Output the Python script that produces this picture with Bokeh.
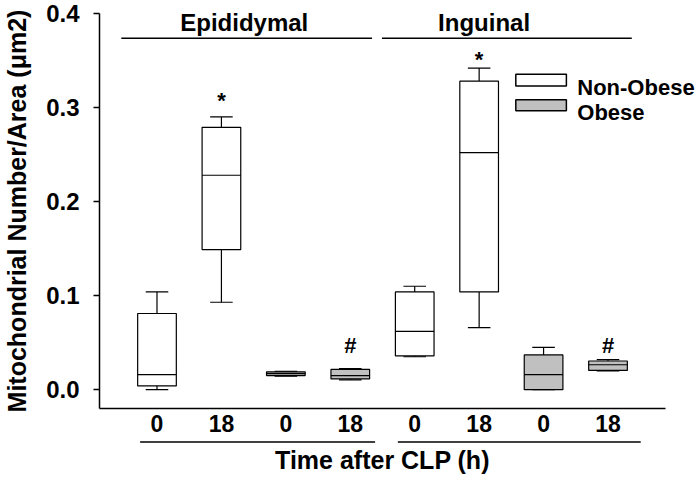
from bokeh.plotting import figure
from bokeh.models import FixedTicker, Range1d, PrintfTickFormatter, ColumnDataSource
from bokeh.core.properties import value
from bokeh.embed import file_html
from bokeh.resources import INLINE

# ---- data ----
positions = [1, 2, 3, 4, 5, 6, 7, 8]
hours = ["0", "18", "0", "18", "0", "18", "0", "18"]
groups = ["Non-Obese", "Non-Obese", "Obese", "Obese",
          "Non-Obese", "Non-Obese", "Obese", "Obese"]
tissues = ["Epididymal", "Inguinal"]
whisker_low = [0.000, 0.093, 0.0145, 0.0105, 0.035, 0.066, 0.000, 0.020]
q1 = [0.004, 0.149, 0.0150, 0.0115, 0.036, 0.104, 0.000, 0.0205]
median = [0.016, 0.228, 0.0170, 0.0150, 0.062, 0.252, 0.016, 0.0265]
q3 = [0.081, 0.279, 0.0190, 0.0215, 0.104, 0.328, 0.037, 0.0305]
whisker_high = [0.104, 0.290, 0.0195, 0.0225, 0.110, 0.342, 0.045, 0.032]
y_ticks = [0.0, 0.1, 0.2, 0.3, 0.4]
legend_labels = ["Non-Obese", "Obese"]
marks = ["*", "#", "*", "#"]
mark_pos = [2, 4, 6, 8]

FONT = "Liberation Sans"
GRAY = "#c0c0c0"
fills = {"Non-Obese": "white", "Obese": GRAY}

p = figure(width=696, height=479, output_backend="svg", toolbar_location=None,
           x_range=Range1d(0.1077, 8.8923), y_range=Range1d(-0.02, 0.4),
           min_border_left=94, min_border_right=31, min_border_top=13,
           min_border_bottom=71)
p.outline_line_color = None
p.xgrid.visible = False
p.ygrid.visible = False
p.background_fill_color = "white"

# axes
p.yaxis.ticker = FixedTicker(ticks=y_ticks)
p.yaxis.formatter = PrintfTickFormatter(format="%.1f")
p.yaxis.minor_tick_line_color = None
p.yaxis.major_tick_in = 0
p.yaxis.major_tick_out = 6
p.yaxis.major_label_standoff = 14
p.yaxis.axis_line_width = 1.5
p.yaxis.major_tick_line_width = 1.5
p.yaxis.axis_label = "Mitochondrial Number/Area (μm2)"
p.yaxis.axis_label_standoff = 12
p.yaxis.major_label_text_font_size = "24px"

p.xaxis.ticker = FixedTicker(ticks=positions)
p.xaxis.major_label_overrides = {pos: h for pos, h in zip(positions, hours)}
p.xaxis.minor_tick_line_color = None
p.xaxis.major_tick_in = 0
p.xaxis.major_tick_out = 0
p.xaxis.major_label_standoff = 6
p.xaxis.axis_line_width = 1.5
p.xaxis.axis_label = "Time after CLP (h)"
p.xaxis.axis_label_standoff = 11
p.xaxis.major_label_text_font_size = "23px"

for ax in (p.xaxis[0], p.yaxis[0]):
    ax.major_label_text_font = FONT
    ax.major_label_text_font_style = "bold"
    ax.major_label_text_color = "black"
    ax.axis_label_text_font = FONT
    ax.axis_label_text_font_size = "25px"
    ax.axis_label_text_font_style = "bold"
    ax.axis_label_text_color = "black"
    ax.axis_line_color = "black"
    ax.major_tick_line_color = "black"

# boxes
src = ColumnDataSource(dict(x=positions, lo=whisker_low, q1=q1, med=median,
                            q3=q3, hi=whisker_high,
                            fill=[fills[g] for g in groups]))
BW = 0.6
CW = 0.35
p.segment(x0="x", y0="q3", x1="x", y1="hi", source=src, line_color="black", line_width=1.2)
p.segment(x0="x", y0="q1", x1="x", y1="lo", source=src, line_color="black", line_width=1.2)
cap_l = [x - CW / 2 for x in positions]
cap_r = [x + CW / 2 for x in positions]
p.segment(x0=cap_l, y0=whisker_high, x1=cap_r, y1=whisker_high, line_color="black", line_width=1.2)
p.segment(x0=cap_l, y0=whisker_low, x1=cap_r, y1=whisker_low, line_color="black", line_width=1.2)
p.vbar(x="x", width=BW, bottom="q1", top="q3", source=src, fill_color="fill",
       line_color="black", line_width=1.2)
p.segment(x0=[x - BW / 2 for x in positions], y0=median,
          x1=[x + BW / 2 for x in positions], y1=median, line_color="black", line_width=1.2)

# significance marks
p.text(x=mark_pos, y=[0.308, 0.0466, 0.351, 0.0470], text=marks,
       text_font=value(FONT), text_font_size="22px", text_font_style="bold",
       text_align="center", text_baseline="alphabetic", text_color="black")

# tissue headers and bracket lines
p.text(x=[2.354, 6.077], y=[0.390, 0.390], text=tissues,
       text_font=value(FONT), text_font_size="24px", text_font_style="bold",
       text_align="center", text_baseline="alphabetic", text_color="black", level="overlay")
p.segment(x0=[0.446, 4.492], y0=[0.3737, 0.3737], x1=[4.338, 8.369], y1=[0.3737, 0.3737],
          line_color="black", line_width=1.5, level="overlay")
p.segment(x0=[0.738, 4.738], y0=[-0.0556, -0.0556], x1=[4.385, 8.508], y1=[-0.0556, -0.0556],
          line_color="black", line_width=1.5, level="overlay")

# legend
p.quad(left=[6.569, 6.569], right=[7.354, 7.354], top=[0.3354, 0.3082], bottom=[0.3229, 0.2966],
       fill_color=[fills[g] for g in legend_labels], line_color="black", line_width=1.5)
p.text(x=[7.523, 7.523], y=[0.3215, 0.2945], text=legend_labels,
       text_font=value(FONT), text_font_size="22px", text_font_style="bold",
       text_align="left", text_baseline="alphabetic", text_color="black", level="overlay")

open("out.html", "w").write(file_html(p, INLINE))
